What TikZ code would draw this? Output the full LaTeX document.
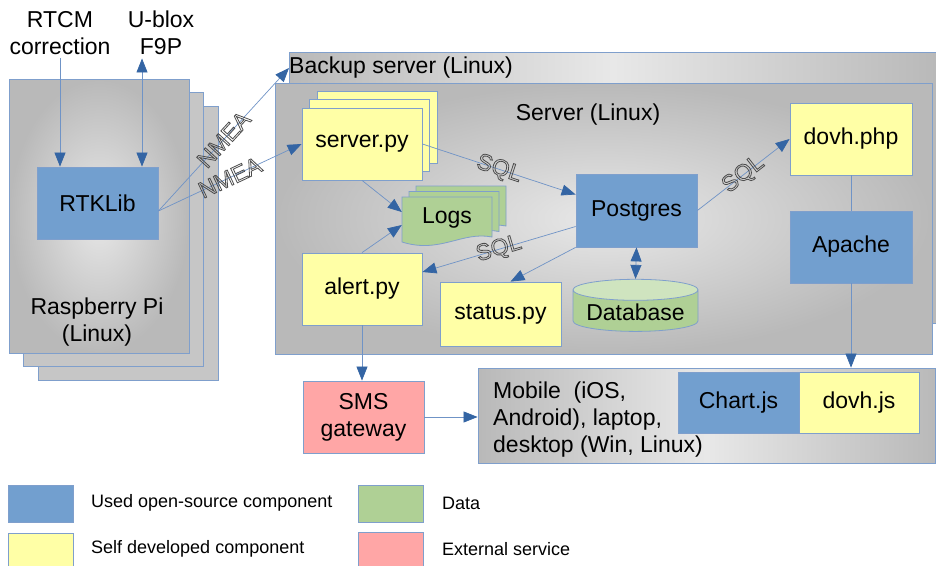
\documentclass[tikz,border=0pt]{standalone}
\usepackage{fontspec}
\setmainfont{Liberation Sans}
\usetikzlibrary{arrows.meta,shadows,shapes.geometric}
\definecolor{osblue}{HTML}{729FCF}
\definecolor{osedge}{HTML}{3465A4}
\definecolor{selfyellow}{HTML}{FFFFA6}
\definecolor{datagreen}{HTML}{AFD095}
\definecolor{dataend}{HTML}{CFE4BF}
\definecolor{extpink}{HTML}{FFA6A6}
\definecolor{rim}{HTML}{7F9FCC}
\definecolor{wire}{HTML}{6F93C6}
\newcommand{\hollow}[1]{\special{pdf:literal direct 1 Tr 0.8 w}#1}

\begin{document}
\begin{tikzpicture}[x=1pt,y=-1pt,
  font=\fontsize{23}{27}\selectfont,
  >={Triangle[length=14pt,width=11pt,color=osedge]},
  box/.style={draw=rim,line width=0.8pt,minimum width=121,minimum height=72,align=center},
  oss/.style={box,fill=osblue},
  self/.style={box,fill=selfyellow},
  ext/.style={box,fill=extpink},
  host/.style={draw=rim,line width=0.8pt},
  glow/.style={host,inner color=gray!18,outer color=gray!55},
  band/.style={host,left color=gray!55,right color=gray!55,middle color=gray!18},
  flow/.style={draw=wire,line width=0.7pt,->},
  proto/.style={sloped,midway,text=black!70},
  key/.style={draw=rim,minimum width=65,minimum height=37},
  keytext/.style={anchor=west,inner sep=0pt,font=\fontsize{18}{22}\selectfont}]
\useasboundingbox (0,0) rectangle (936,565);

\node[glow,minimum width=180,minimum height=274,
  double copy shadow={shadow xshift=14.5pt,shadow yshift=-13.5pt,fill=gray!45,draw=rim}] (pi) at (99,216) {};
\node (pilbl) at (97,322) [align=center] {Raspberry Pi\\(Linux)};
\node[oss] (rtk) at (97.5,203) {RTKLib};
\node[align=center] (rtcm) at (60,33) {RTCM\\correction};
\node[align=center] (ublox) at (161,33) {U-blox\\F9P};

\node[band,minimum width=648,minimum height=271] (backup) at (613,187.5) {};
\node[anchor=west,inner sep=0pt] (bklbl) at (289,68) {Backup server (Linux)};
\node[glow,minimum width=657,minimum height=271] (server) at (603.5,218.5) {};
\node (srvlbl) at (588,115) {Server (Linux)};

\node[self,minimum width=120,
  double copy shadow={shadow xshift=7.5pt,shadow yshift=8.5pt,fill=selfyellow,draw=rim}] (srvpy) at (362,144) {server.py};
\foreach \k in {2,1,0}
  \draw[draw=rim,line width=0.8pt,fill=datagreen,shift={(7*\k,-5.5*\k)}]
    (402,197) -- (492,197) -- (492,237) .. controls (462,231) and (440,254) .. (402,242) -- cycle;
\node[minimum width=90,minimum height=44] (logs) at (447,218) {Logs};
\node[oss,minimum height=73] (pg) at (636.5,210.5) {Postgres};
\node[self,minimum width=120] (alert) at (362,289) {alert.py};
\node[self,minimum height=64] (status) at (500.5,314) {status.py};
\node[cylinder,shape border rotate=90,aspect=0.2,draw=rim,line width=0.8pt,
  cylinder uses custom fill,cylinder body fill=datagreen,cylinder end fill=dataend,
  minimum width=125,minimum height=51] (db) at (635.5,312.5) {Database};
\node[self,minimum width=122] (php) at (851,139) {dovh.php};
\node[oss,minimum width=122] (apache) at (851,247) {Apache};

\node[ext] (sms) at (363.5,417) {SMS\\gateway};
\node[band,minimum width=457,minimum height=95] (mobile) at (706.5,415.5) {};
\node[anchor=west,inner sep=0pt,align=left] (mobtxt) at (493,420) {Mobile\ \ (iOS,\\Android), laptop,\\desktop (Win, Linux)};
\node[oss,minimum height=61] (chart) at (738.5,402.5) {Chart.js};
\node[self,minimum width=120,minimum height=61] (js) at (859,402.5) {dovh.js};

\draw[flow] (rtcm) -- (rtcm |- rtk.north);
\draw[flow,<->] ([xshift=-19pt]ublox.south) -- ([xshift=-19pt]ublox.south |- rtk.north);
\draw[flow] ([yshift=-8pt]rtk.east) -- (bklbl.west) node[proto] {\hollow{NMEA}};
\draw[flow] ([yshift=-8pt]rtk.east) -- (srvpy.west) node[proto] {\hollow{NMEA}};
\draw[flow] (srvpy.east) -- ([yshift=16pt]pg.west) node[proto] {\hollow{SQL}};
\draw[flow] (srvpy.south) -- ([yshift=6pt]logs.west);
\draw[flow] (alert.north) -- ([yshift=-7pt]logs.west);
\draw[flow] ([yshift=-16pt]pg.west) -- ([yshift=17pt]alert.east) node[proto] {\hollow{SQL}};
\draw[flow] (pg.south west) -- ([xshift=10pt]status.north);
\draw[flow,<->] (pg.south) -- (db.north);
\draw[flow] (pg.east) -- (php.west) node[proto] {\hollow{SQL}};
\draw[draw=wire,line width=0.7pt] (php) -- (apache);
\draw[flow] (apache) -- (apache |- mobile.north);
\draw[flow] (alert.south) -- (alert.south |- sms.north);
\draw[flow] (sms) -- (sms -| mobile.west);

\node[key,fill=osblue] (keyoss) at (41,503.5) {};
\node[keytext] (keyosstxt) at (91,503) {Used open-source component};
\node[key,fill=selfyellow] (keyself) at (41,551.5) {};
\node[keytext] (keyselftxt) at (91,549) {Self developed component};
\node[key,fill=datagreen] (keydata) at (391,503.5) {};
\node[keytext] (keydatatxt) at (442,503) {Data};
\node[key,fill=extpink] (keyext) at (391,550.5) {};
\node[keytext] (keyexttxt) at (442,549) {External service};
\end{tikzpicture}
\end{document}
